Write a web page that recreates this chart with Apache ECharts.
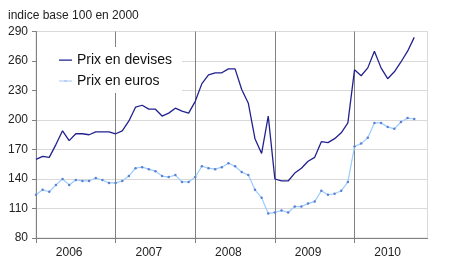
<!DOCTYPE html>
<html>
<head>
<meta charset="utf-8">
<script src="https://cdn.jsdelivr.net/npm/echarts@6/dist/echarts.min.js"></script>
<style>
html,body{margin:0;padding:0;background:#fff;}
#c{width:450px;height:279px;}
</style>
</head>
<body>
<div id="c"></div>
<script>
var years = ['2006', '2007', '2008', '2009', '2010'];
var monthsPerYear = ['01','02','03','04','05','06','07','08','09','10','11','12'];
var yTicks = [80, 110, 140, 170, 200, 230, 260, 290];
var titleText = 'indice base 100 en 2000';
var seriesNames = ['Prix en devises', 'Prix en euros'];

var prixDevises = [160, 163, 162, 175, 189, 179, 186, 186, 185, 188, 188, 188,
  186, 189, 199, 213, 215, 211, 211, 204, 207, 212, 209, 207,
  219, 237, 246, 248, 248, 252, 252, 231, 217, 181, 166, 204,
  140, 138, 138, 146, 151, 158, 162, 178, 177, 181, 187, 197,
  251, 245, 253, 270, 253, 242, 249, 259, 270, 284];

var prixEuros = [124, 129, 127, 134, 140, 134, 139, 138, 138, 141, 139, 136,
  136, 138, 143, 151, 152, 150, 148, 143, 142, 144, 137, 137,
  142, 153, 151, 150, 152, 156, 153, 147, 144, 129, 121, 105,
  106, 108, 106, 112, 112, 115, 117, 128, 124, 125, 128, 137,
  173, 176, 182, 197, 197, 193, 191, 198, 202, 201];

var categories = [];
years.forEach(function (y) {
  monthsPerYear.forEach(function (m) { categories.push(y + '-' + m); });
});

var colDevises = '#22228f';
var colEurosLine = '#99ccff';
var colEurosDot = '#5f7fd0';

var chart = echarts.init(document.getElementById('c'), null, {renderer: 'canvas'});
var font = 'Liberation Sans, Arial, sans-serif';

var lineIcon = 'path://M0,6.4 L13,6.4 L13,7.7 L0,7.7 Z M0,0 L0.01,0 L0.01,0.01 Z M12.99,14 L13,14 L13,13.99 Z';
var dotLineIcon = 'path://M0,6.5 L13,6.5 L13,7.6 L0,7.6 Z M5.5,6 L7.5,6 L7.5,8 L5.5,8 Z M0,0 L0.01,0 L0.01,0.01 Z M12.99,14 L13,14 L13,13.99 Z';

chart.setOption({
  animation: false,
  backgroundColor: '#ffffff',
  title: {
    text: titleText,
    left: 3,
    top: 5,
    textStyle: {fontFamily: font, fontSize: 12, fontWeight: 'normal', color: '#222'}
  },
  legend: {
    orient: 'vertical',
    left: 37,
    top: 47,
    padding: [6, 10, 5, 22],
    backgroundColor: '#ffffff',
    itemWidth: 13,
    itemHeight: 14,
    itemGap: 7,
    textStyle: {fontFamily: font, fontSize: 14, color: '#111'},
    data: [
      {name: seriesNames[0], icon: lineIcon, itemStyle: {color: colDevises}},
      {name: seriesNames[1], icon: dotLineIcon, itemStyle: {color: '#a8c8f4'}}
    ]
  },
  grid: {
    left: 36, right: 22.5, top: 31.5, bottom: 41,
    show: true, borderColor: '#d9d9d9', borderWidth: 1
  },
  xAxis: {
    type: 'category',
    data: categories,
    boundaryGap: false,
    axisLine: {lineStyle: {color: '#808080', width: 1}},
    axisTick: {
      show: true, length: 5,
      interval: function (i) { return i % 12 === 0; },
      lineStyle: {color: '#808080'}
    },
    axisLabel: {
      interval: function (i) { return i % 12 === 5; },
      formatter: function (v) { return v.slice(0, 4); },
      margin: 9,
      fontFamily: font, fontSize: 12, color: '#222'
    },
    splitLine: {
      show: true,
      interval: function (i) { return i % 12 === 0 && i > 0; },
      lineStyle: {color: '#808080', width: 1}
    }
  },
  yAxis: {
    type: 'value',
    min: yTicks[0],
    max: yTicks[yTicks.length - 1],
    interval: 30,
    axisLine: {show: true, lineStyle: {color: '#808080'}},
    axisTick: {show: true, length: 4, lineStyle: {color: '#808080'}},
    axisLabel: {margin: 8, fontFamily: font, fontSize: 12, color: '#222'},
    splitLine: {show: true, lineStyle: {color: '#d9d9d9', width: 1}}
  },
  series: [
    {
      name: seriesNames[0],
      type: 'line',
      data: prixDevises,
      symbol: 'none',
      itemStyle: {color: colDevises},
      lineStyle: {color: colDevises, width: 1.3}
    },
    {
      name: seriesNames[1],
      type: 'line',
      data: prixEuros,
      symbol: 'circle',
      symbolSize: 2.5,
      itemStyle: {color: colEurosDot},
      lineStyle: {color: colEurosLine, width: 1.2}
    }
  ]
});
</script>
</body>
</html>
